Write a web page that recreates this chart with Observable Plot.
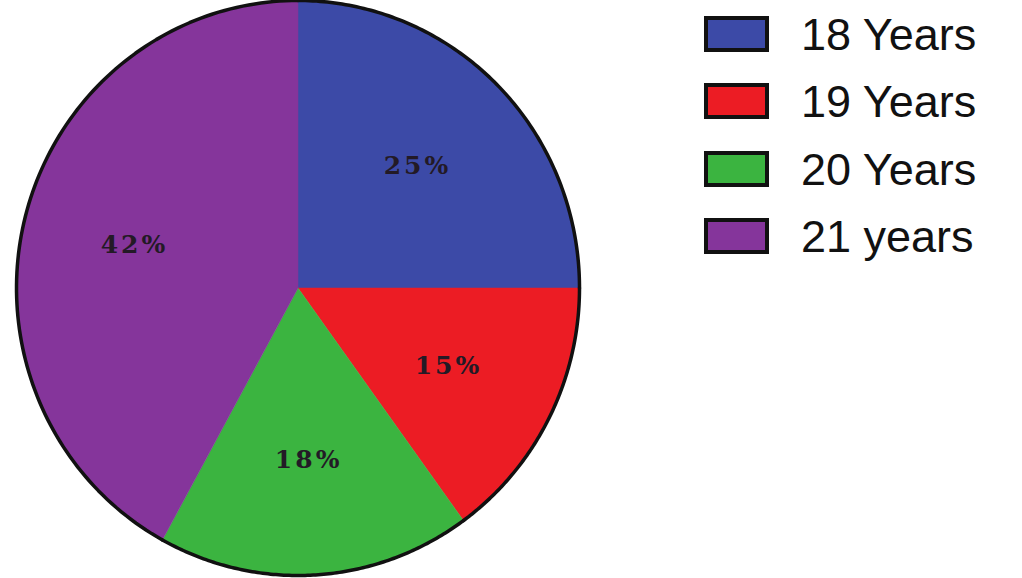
<!DOCTYPE html>
<html>
<head>
<meta charset="utf-8">
<script src="https://cdn.jsdelivr.net/npm/d3@7"></script>
<script src="https://cdn.jsdelivr.net/npm/@observablehq/plot@0.6"></script>
<style>
  html, body { margin: 0; padding: 0; background: #fff; }
  #wrap { position: relative; width: 1022px; height: 578px; overflow: hidden; }
  #chart { position: absolute; left: 0; top: 0; }
  #legend { position: absolute; left: 704px; top: 16px; font-family: "Liberation Sans", Arial, sans-serif; }
  .item { display: flex; align-items: flex-start; height: 67.3px; }
  .sw { width: 57px; height: 28px; border: 4px solid #111; box-sizing: content-box; margin-right: 32px; }
  .lab { font-size: 45px; color: #111; line-height: 1; position: relative; top: -4px; }
  .pielabel text { letter-spacing: 3px; }
</style>
</head>
<body>
<div id="wrap">
  <div id="chart"></div>
  <div id="legend"></div>
</div>
<script>
const categories = ["18 Years", "19 Years", "20 Years", "21 years"];
const shares = [25, 15, 18, 42];
const percentLabels = ["25%", "15%", "18%", "42%"];
const colors = ["#3c4aa7", "#ec1c24", "#3bb440", "#85359b"];

const table = categories.map((c, i) => ({category: c, value: shares[i], label: percentLabels[i]}));
const arcs = d3.pie().sort(null).value(d => d.value)(table);

const N = 120;
const slicePts = [];
const rimPts = [];
const labelPts = [];
for (const a of arcs) {
  const c = a.data.category;
  slicePts.push({category: c, x: 0, y: 0});
  for (let k = 0; k <= N; k++) {
    const t = a.startAngle + (a.endAngle - a.startAngle) * k / N;
    slicePts.push({category: c, x: Math.sin(t), y: Math.cos(t)});
    rimPts.push({category: c, x: Math.sin(t), y: Math.cos(t)});
  }
  slicePts.push({category: c, x: 0, y: 0});
  const m = (a.startAngle + a.endAngle) / 2;
  labelPts.push({label: a.data.label, x: 0.6 * Math.sin(m), y: 0.6 * Math.cos(m)});
}

const plot = Plot.plot({
  width: 600,
  height: 578,
  marginLeft: 16,
  marginRight: 21,
  marginTop: 0,
  marginBottom: 3,
  x: {domain: [-1, 1], axis: null},
  y: {domain: [-1, 1], axis: null},
  color: {domain: categories, range: colors, legend: false},
  marks: [
    Plot.line(slicePts, {x: "x", y: "y", z: "category", fill: "category", stroke: "category", strokeWidth: 0.5}),
    Plot.line(rimPts, {x: "x", y: "y", z: "category", stroke: "#111", strokeWidth: 3.5}),
    Plot.text(labelPts, {x: "x", y: "y", text: "label", fontFamily: "DejaVu Serif", fontWeight: "bold", fontSize: 25, fill: "#231a26", className: "pielabel"})
  ]
});
document.getElementById("chart").appendChild(plot);

const legend = document.getElementById("legend");
categories.forEach((c, i) => {
  const item = document.createElement("div");
  item.className = "item";
  const sw = document.createElement("div");
  sw.className = "sw";
  sw.style.background = colors[i];
  const lab = document.createElement("div");
  lab.className = "lab";
  lab.textContent = c;
  item.appendChild(sw);
  item.appendChild(lab);
  legend.appendChild(item);
});
</script>
</body>
</html>
